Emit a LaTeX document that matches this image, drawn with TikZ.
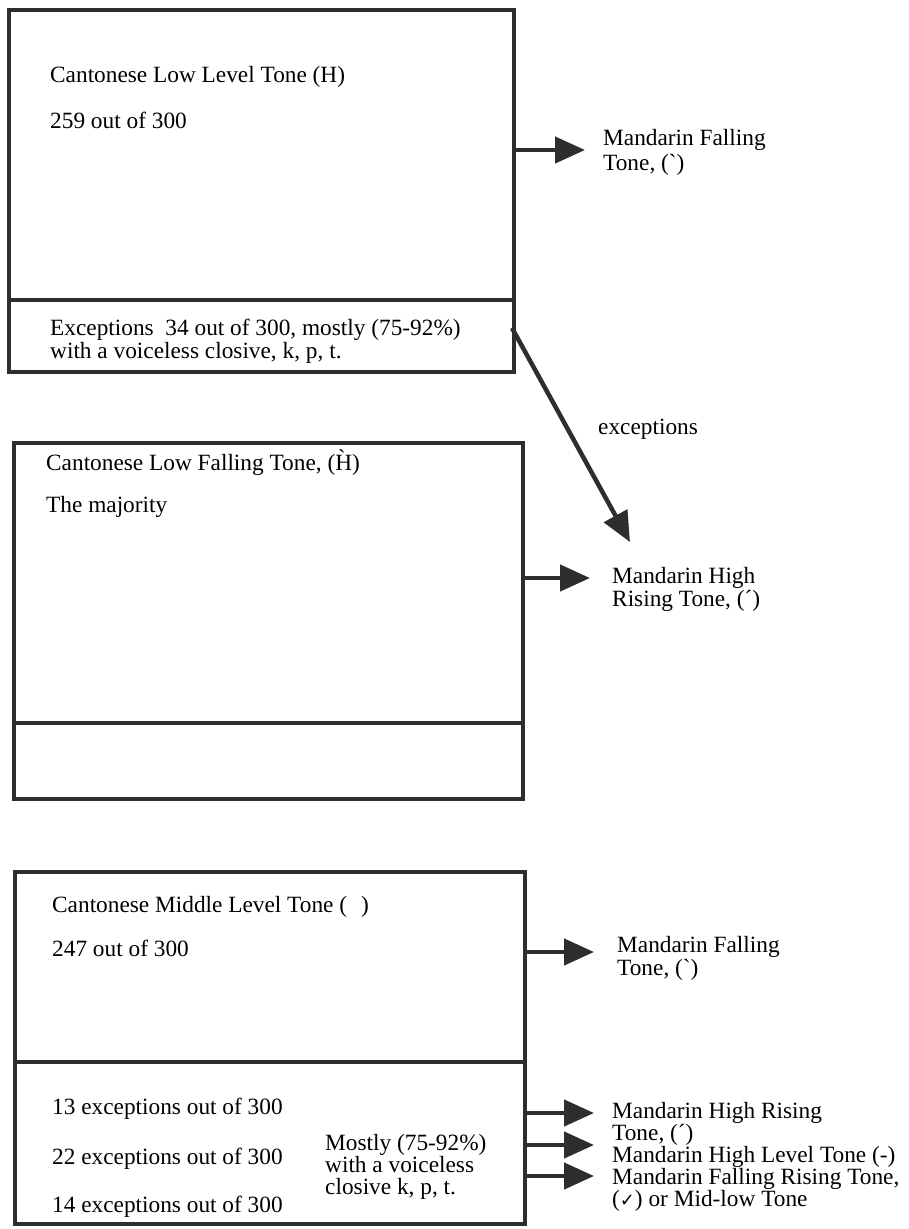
\documentclass[tikz,border=0pt]{standalone}
\usepackage{fontspec}
\setmainfont{Liberation Serif}
\newfontfamily\symfont{DejaVu Sans}
\usetikzlibrary{arrows.meta}
\definecolor{ink}{HTML}{2E2E2E}
\begin{document}
\begin{tikzpicture}[x=1bp,y=-1bp,
  box/.style={draw=ink, line width=4bp, rectangle, inner sep=0pt, anchor=north west},
  divline/.style={draw=ink, line width=4bp},
  arr/.style={draw=ink, line width=4.5bp, -{Triangle[length=30bp,width=26bp]}},
  txt/.style={anchor=base west, inner sep=0pt, text=black, font=\fontsize{23.4}{24}\selectfont}]
\fill[white] (0,0) rectangle (909,1229);
\useasboundingbox (0,0) rectangle (909,1229);

% ---------- box 1
\node[box, minimum width=505bp, minimum height=362bp] (b1) at (7,8) {};
\coordinate (d1a) at (7,300); \coordinate (d1b) at (512,300);
\draw[divline] (d1a) -- (d1b);
\node[txt] (t1a) at (50,82) {Cantonese Low Level Tone (H)};
\node[txt] (t1b) at (50,128) {259 out of 300};
\node[txt] (t1c) at (50,335) {Exceptions\ \ 34 out of 300, mostly (75-92\%)};
\node[txt] (t1d) at (50,358) {with a voiceless closive, k, p, t.};

\coordinate (a1s) at (512,150); \coordinate (a1e) at (585,150);
\draw[arr] (a1s) -- (a1e);
\node[txt] (l1a) at (603,145) {Mandarin Falling};
\node[txt] (l1b) at (603,170) {Tone, (\textasciigrave)};

% diagonal exceptions arrow
\coordinate (dgs) at (512,328); \coordinate (dge) at (630,542);
\draw[arr] (dgs) -- (dge);
\node[txt] (exc) at (598,434) {exceptions};

% ---------- box 2
\node[box, minimum width=509bp, minimum height=356bp] (b2) at (12,441) {};
\coordinate (d2a) at (12,723); \coordinate (d2b) at (521,723);
\draw[divline] (d2a) -- (d2b);
\node[txt] (t2a) at (46,470) {Cantonese Low Falling Tone, (\`{H})};
\node[txt] (t2b) at (46,512) {The majority};

\coordinate (a2s) at (521,578); \coordinate (a2e) at (590,578);
\draw[arr] (a2s) -- (a2e);
\node[txt] (l2a) at (612,583) {Mandarin High};
\node[txt] (l2b) at (612,606) {Rising Tone, (\textasciiacute)};

% ---------- box 3
\node[box, minimum width=510bp, minimum height=352bp] (b3) at (13,870) {};
\coordinate (d3a) at (13,1062); \coordinate (d3b) at (523,1062);
\draw[divline] (d3a) -- (d3b);
\node[txt] (t3a) at (52,912) {Cantonese Middle Level Tone (\hspace{0.6em})};
\node[txt] (t3b) at (52,956) {247 out of 300};

\coordinate (a3s) at (523,952); \coordinate (a3e) at (594,952);
\draw[arr] (a3s) -- (a3e);
\node[txt] (l3a) at (617,952) {Mandarin Falling};
\node[txt] (l3b) at (617,975) {Tone, (\textasciigrave)};

\node[txt] (e13) at (52,1114) {13 exceptions out of 300};
\node[txt] (e22) at (52,1164) {22 exceptions out of 300};
\node[txt] (e14) at (52,1212) {14 exceptions out of 300};
\node[txt] (m1) at (325,1150) {Mostly (75-92\%)};
\node[txt] (m2) at (325,1172) {with a voiceless};
\node[txt] (m3) at (325,1194) {closive k, p, t.};

\coordinate (a4s) at (523,1113); \coordinate (a4e) at (594,1113);
\coordinate (a5s) at (523,1145); \coordinate (a5e) at (594,1145);
\coordinate (a6s) at (523,1176); \coordinate (a6e) at (594,1176);
\draw[arr] (a4s) -- (a4e);
\draw[arr] (a5s) -- (a5e);
\draw[arr] (a6s) -- (a6e);
\node[txt] (l4a) at (612,1118) {Mandarin High Rising};
\node[txt] (l4b) at (612,1140) {Tone, (\textasciiacute)};
\node[txt] (l4c) at (612,1162) {Mandarin High Level Tone (-)};
\node[txt] (l4d) at (612,1184) {Mandarin Falling Rising Tone,};
\node[txt] (l4e) at (612,1206) {({\symfont\fontsize{18}{18}\selectfont ✓}) or Mid-low Tone};
\end{tikzpicture}
\end{document}
